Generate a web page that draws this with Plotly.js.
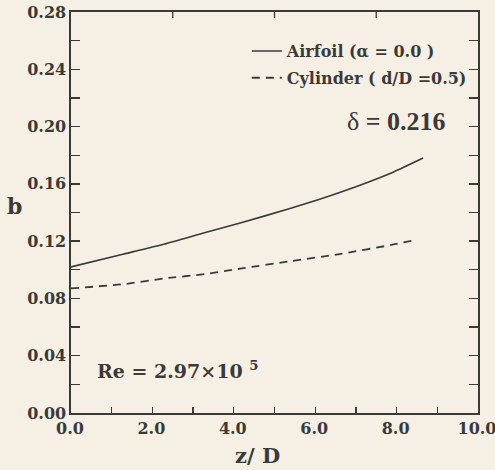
<!DOCTYPE html>
<html>
<head>
<meta charset="utf-8">
<script src="https://cdn.plot.ly/plotly-3.0.1.min.js"></script>
<style>
  html, body { margin: 0; padding: 0; background: #f6f0e4; }
  #chart { width: 495px; height: 470px; }
</style>
</head>
<body>
<div id="chart"></div>
<script>
// Data
const airfoilZ = [0, 1.3, 2.3, 3.3, 4.2, 5.4, 6.6, 7.9, 8.65];
const airfoilB = [0.102, 0.111, 0.118, 0.126, 0.133, 0.143, 0.154, 0.168, 0.178];
const cylinderZ = [0, 1.3, 2.3, 3.3, 4.2, 5.4, 6.6, 7.9, 8.4];
const cylinderB = [0.087, 0.090, 0.094, 0.097, 0.101, 0.106, 0.111, 0.1175, 0.1205];
const seriesNames = ['Airfoil (α = 0.0 )', 'Cylinder ( d/D =0.5)'];
const xTickVals = [0, 2, 4, 6, 8, 10];
const xTopTickVals = [2.5, 5, 7.5];
const yTickVals = [0, 0.02, 0.04, 0.06, 0.08, 0.10, 0.12, 0.14, 0.16, 0.18, 0.20, 0.22, 0.24, 0.26, 0.28];
const yTickText = ['0.00', '', '0.04', '', '0.08', '', '0.12', '', '0.16', '', '0.20', '', '0.24', '', '0.28'];

const ink = '#3a3a3a';
const bg = '#f6f0e4';
const serifBold = {family: 'DejaVu Serif', size: 16, weight: 'bold', color: ink};

const traces = [
  {x: airfoilZ, y: airfoilB, name: seriesNames[0], mode: 'lines', type: 'scatter',
   line: {color: ink, width: 1.6, shape: 'spline', smoothing: 0.6}, legendgroup: 'a'},
  {x: cylinderZ, y: cylinderB, name: seriesNames[1], mode: 'lines', type: 'scatter',
   line: {color: ink, width: 1.8, dash: '8px,6px', shape: 'spline', smoothing: 0.6}, legendgroup: 'c'}
];

// short inward tick marks along the top frame (axis decoration)
const topTicks = xTopTickVals.map(v => ({
  type: 'line', xref: 'x', yref: 'paper', x0: v, x1: v,
  ysizemode: 'pixel', yanchor: 1, y0: 0, y1: -6,
  line: {color: ink, width: 1.3}, layer: 'above'
}));

const layout = {
  width: 495, height: 470,
  margin: {l: 71, r: 17, t: 12, b: 57, pad: 0},
  paper_bgcolor: bg, plot_bgcolor: bg,
  showlegend: true,
  legend: {x: 0.432, xanchor: 'left', y: 0.945, yanchor: 'top',
           bgcolor: 'rgba(0,0,0,0)', font: serifBold, traceorder: 'grouped',
           tracegroupgap: 3},
  xaxis: {range: [0, 10], tickvals: xTickVals, tickformat: '.1f',
          ticks: 'inside', ticklen: 6, tickwidth: 1.3, tickcolor: ink,
          minor: {dtick: 1, tick0: 0, ticks: 'inside', ticklen: 6, tickwidth: 1.3, tickcolor: ink},
          showline: true, mirror: true, linecolor: ink, linewidth: 1.6,
          showgrid: false, zeroline: false, tickfont: serifBold, fixedrange: true,
          ticklabeloverflow: 'allow', ticklabelshift: -1},
  yaxis: {range: [0, 0.28], tickvals: yTickVals, ticktext: yTickText,
          ticks: 'inside', ticklen: 9, tickwidth: 1.3, tickcolor: ink,
          showline: true, mirror: 'allticks', linecolor: ink, linewidth: 1.6,
          showgrid: false, zeroline: false, tickfont: serifBold, fixedrange: true},
  shapes: topTicks,
  annotations: [
    {text: 'b', xref: 'paper', yref: 'paper', x: -0.1376, y: 0.516, xanchor: 'center', yanchor: 'middle',
     showarrow: false, font: {family: 'DejaVu Serif', size: 22, weight: 'bold', color: ink}},
    {text: 'z/ D', xref: 'paper', yref: 'paper', x: 0.458, y: -0.105, xanchor: 'center', yanchor: 'middle',
     showarrow: false, font: {family: 'DejaVu Serif', size: 21, weight: 'bold', color: ink}},
    {text: 'Re = 2.97×10 <sup>5</sup>', xref: 'paper', yref: 'paper', x: 0.06, y: 0.107, xanchor: 'left', yanchor: 'middle',
     showarrow: false, font: {family: 'DejaVu Serif', size: 19, weight: 'bold', color: ink}},
    {text: 'δ <b>= 0.216</b>', xref: 'paper', yref: 'paper', x: 0.674, y: 0.728, xanchor: 'left', yanchor: 'middle',
     showarrow: false, font: {family: 'Liberation Serif', size: 26, color: ink}}
  ]
};

Plotly.newPlot('chart', traces, layout, {staticPlot: true, displayModeBar: false});
</script>
</body>
</html>
